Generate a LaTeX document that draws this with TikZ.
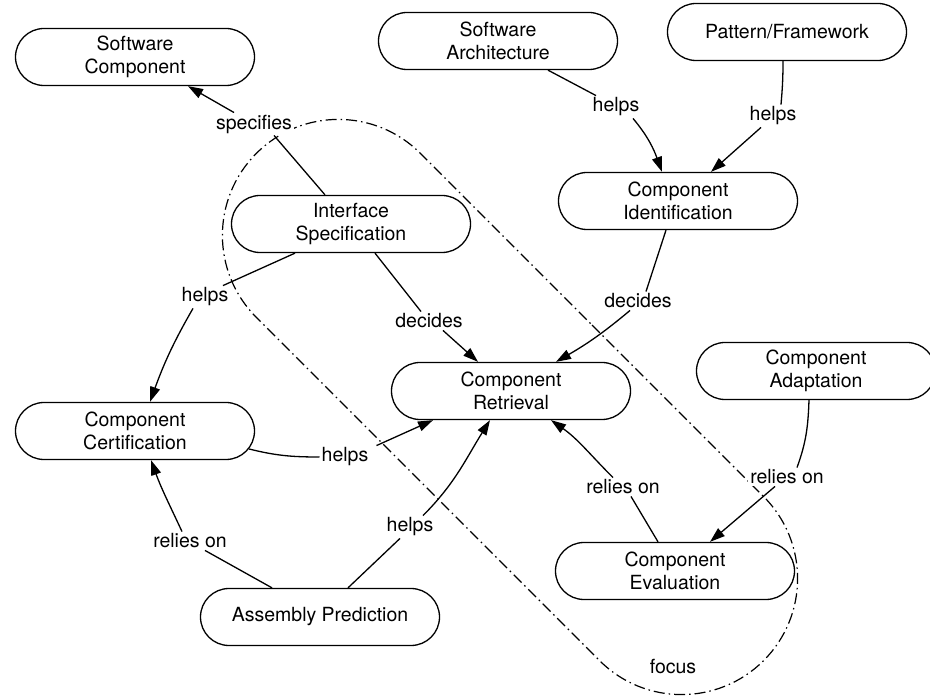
\documentclass[tikz,border=0pt]{standalone}
\usepackage{fontspec}
\setmainfont{TeX Gyre Heros}
\usetikzlibrary{shapes.misc,arrows.meta}

\begin{document}
\begin{tikzpicture}[
    x=1pt, y=-1pt,
    every node/.style={font=\fontsize{19.5pt}{22.7pt}\selectfont},
    concept/.style={draw, fill=white, rounded rectangle, align=center,
                    minimum width=243pt, minimum height=57pt, inner sep=2pt,
                    line width=1.3pt},
    ln/.style={line width=1.3pt},
    arr/.style={ln, -{Triangle[length=15pt,width=10pt]}},
    lbl/.style={fill=white, inner sep=2pt},
    focusbox/.style={draw, rounded rectangle, line width=1.2pt,
                     dash pattern=on 11pt off 4pt on 1.5pt off 4pt,
                     minimum width=724pt, minimum height=232pt, rotate=-45}
  ]
    \useasboundingbox (0,0) rectangle (930,700);

    % focus region
    \node[focusbox] (focus) at (510,407) {};
    \node (focuslbl) at (673,667) {focus};

    \node[concept] (swc)   at (135,57)  {Software\\Component};
    \node[concept] (swa)   at (498,41)  {Software\\Architecture};
    \node[concept] (pfw)   at (787,32)  {Pattern/Framework};
    \node[concept] (isp)   at (351,224) {Interface\\Specification};
    \node[concept] (cid)   at (678,201) {Component\\Identification};
    \node[concept] (cr)    at (511,391) {Component\\Retrieval};
    \node[concept] (cada)  at (816,371) {Component\\Adaptation};
    \node[concept] (ccert) at (135,431) {Component\\Certification};
    \node[concept] (ceval) at (675,571) {Component\\Evaluation};
    \node[concept] (ap)    at (320,617) {Assembly Prediction};

    % edge labels
    \node[lbl] (lspec)  at (254,124) {specifies};
    \node[lbl] (lsa)    at (616,107) {helps};
    \node[lbl] (lpf)    at (773,116) {helps};
    \node[lbl] (ldec2)  at (638,301) {decides};
    \node[lbl] (ldec1)  at (429,321) {decides};
    \node[lbl] (lhelp1) at (205,297) {helps};
    \node[lbl] (lhelp2) at (345,457) {helps};
    \node[lbl] (lrel1)  at (190,541) {relies on};
    \node[lbl] (lhelp3) at (410,527) {helps};
    \node[lbl] (lrel2)  at (623,487) {relies on};
    \node[lbl] (lrel3)  at (787,477) {relies on};

    \draw[ln]  ([xshift=-26pt]isp.north) -- ([xshift=20pt]lspec.south);
    \draw[arr] ([xshift=-20pt]lspec.north) -- ([xshift=53pt]swc.south);

    \draw[ln]  ([xshift=50pt]swa.south) -- ([xshift=-20pt]lsa.north);
    \draw[arr] ([xshift=17pt]lsa.south) to[out=-50,in=110] ([xshift=-16pt]cid.north);

    \draw[ln]  ([xshift=-4pt]pfw.south) to[out=-90,in=85] ([xshift=8pt]lpf.north);
    \draw[arr] ([xshift=-12pt]lpf.south) -- ([xshift=33pt]cid.north);

    \draw[ln]  ([xshift=-12pt]cid.south) -- ([xshift=8pt]ldec2.north);
    \draw[arr] ([xshift=-8pt]ldec2.south) to[out=-140,in=30] ([xshift=45pt]cr.north);

    \draw[ln]  ([xshift=24pt]isp.south) -- ([xshift=-8pt]ldec1.north);
    \draw[arr] ([xshift=14pt]ldec1.south) -- ([xshift=-33pt]cr.north);

    \draw[ln]  ([xshift=-56pt]isp.south) -- ([xshift=18pt]lhelp1.north);
    \draw[arr] ([xshift=-12pt]lhelp1.south) to[out=-120,in=70] ([xshift=15pt]ccert.north);

    \draw[ln]  ([xshift=-6pt,yshift=-18pt]ccert.east) to[out=-14,in=180] (lhelp2.west);
    \draw[arr] ([xshift=6pt]lhelp2.north east) -- ([xshift=-78pt]cr.south);

    \draw[ln]  ([xshift=-48pt]ap.north) -- ([xshift=15pt]lrel1.south);
    \draw[arr] ([xshift=-8pt]lrel1.north) to[out=115,in=-70] ([xshift=16pt]ccert.south);

    \draw[ln]  ([xshift=28pt]ap.north) -- ([xshift=-10pt]lhelp3.south);
    \draw[arr] ([xshift=13pt]lhelp3.north) to[out=45,in=-122] ([xshift=-21pt]cr.south);

    \draw[ln]  ([xshift=-17pt]ceval.north) -- ([xshift=8pt]lrel2.south);
    \draw[arr] ([xshift=-10pt]lrel2.north) to[out=135,in=-35] ([xshift=40pt]cr.south);

    \draw[ln]  ([xshift=-7pt]cada.south) to[out=-92,in=70] ([xshift=10pt]lrel3.north);
    \draw[arr] ([xshift=-12pt]lrel3.south) -- ([xshift=35pt]ceval.north);
\end{tikzpicture}
\end{document}
